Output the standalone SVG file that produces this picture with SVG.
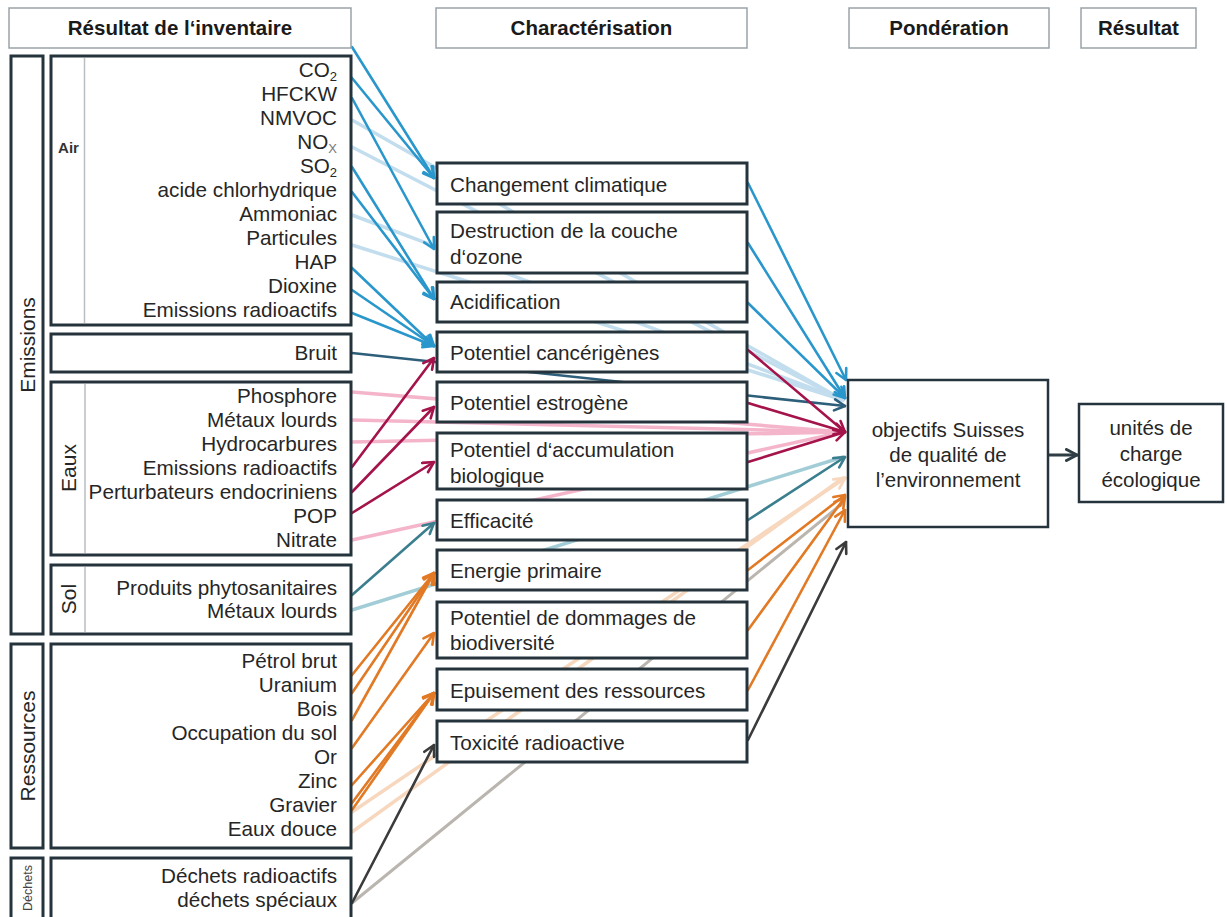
<svg xmlns="http://www.w3.org/2000/svg" width="1227" height="917" viewBox="0 0 1227 917">
<style>
.hdr{fill:#fff;stroke:#9aa3a8;stroke-width:1.5}
.box{fill:#fff;stroke:#25343c;stroke-width:3}
.div{stroke:#b9bec2;stroke-width:1.5}
.ht{font-family:"Liberation Sans",Arial,sans-serif;font-weight:bold;font-size:20.5px;fill:#1a1a1a;text-anchor:middle}
.it{font-family:"Liberation Sans",Arial,sans-serif;font-size:20.7px;fill:#262626;text-anchor:end}
.ct{font-family:"Liberation Sans",Arial,sans-serif;font-size:20.7px;fill:#262626}
.mt{font-family:"Liberation Sans",Arial,sans-serif;font-size:20.5px;fill:#262626;text-anchor:middle}
.vt{font-family:"Liberation Sans",Arial,sans-serif;font-size:21px;fill:#262626;text-anchor:middle}
.sub{font-size:13px}
.c{fill:none;stroke-linecap:round}
.blue{stroke:#2a97cc;stroke-width:2.6}
.lblue{stroke:#c2dded;stroke-width:3.5}
.dblue{stroke:#2d5e7a;stroke-width:2.6}
.crim{stroke:#a5134b;stroke-width:2.6}
.pink{stroke:#f4b5ca;stroke-width:3.5}
.teal{stroke:#3b7f8f;stroke-width:2.6}
.lteal{stroke:#a3cdd6;stroke-width:3.5}
.orng{stroke:#e27a25;stroke-width:2.6}
.peach{stroke:#f7d8bf;stroke-width:3.5}
.lgray{stroke:#bab5ae;stroke-width:3}
.dgray{stroke:#3b3b3b;stroke-width:2.6}
.dark{stroke:#2f3d45;stroke-width:3}
</style>
<defs>
<marker id="mBlue" markerUnits="userSpaceOnUse" viewBox="0 0 14 14" markerWidth="14" markerHeight="14" refX="12.5" refY="7" orient="auto"><path d="M2,1.5 L12.5,7 L2,12.5" fill="none" stroke="#2a97cc" stroke-width="2.6" stroke-linecap="round" stroke-linejoin="round"/></marker>
<marker id="mDblue" markerUnits="userSpaceOnUse" viewBox="0 0 14 14" markerWidth="14" markerHeight="14" refX="12.5" refY="7" orient="auto"><path d="M2,1.5 L12.5,7 L2,12.5" fill="none" stroke="#2d5e7a" stroke-width="2.6" stroke-linecap="round" stroke-linejoin="round"/></marker>
<marker id="mCrim" markerUnits="userSpaceOnUse" viewBox="0 0 14 14" markerWidth="14" markerHeight="14" refX="12.5" refY="7" orient="auto"><path d="M2,1.5 L12.5,7 L2,12.5" fill="none" stroke="#a5134b" stroke-width="2.6" stroke-linecap="round" stroke-linejoin="round"/></marker>
<marker id="mTeal" markerUnits="userSpaceOnUse" viewBox="0 0 14 14" markerWidth="14" markerHeight="14" refX="12.5" refY="7" orient="auto"><path d="M2,1.5 L12.5,7 L2,12.5" fill="none" stroke="#3b7f8f" stroke-width="2.6" stroke-linecap="round" stroke-linejoin="round"/></marker>
<marker id="mOrng" markerUnits="userSpaceOnUse" viewBox="0 0 14 14" markerWidth="14" markerHeight="14" refX="12.5" refY="7" orient="auto"><path d="M2,1.5 L12.5,7 L2,12.5" fill="none" stroke="#e27a25" stroke-width="2.6" stroke-linecap="round" stroke-linejoin="round"/></marker>
<marker id="mPeach" markerUnits="userSpaceOnUse" viewBox="0 0 14 14" markerWidth="14" markerHeight="14" refX="12.5" refY="7" orient="auto"><path d="M2,1.5 L12.5,7 L2,12.5" fill="none" stroke="#f7d8bf" stroke-width="2.8" stroke-linecap="round" stroke-linejoin="round"/></marker>
<marker id="mDgray" markerUnits="userSpaceOnUse" viewBox="0 0 14 14" markerWidth="14" markerHeight="14" refX="12.5" refY="7" orient="auto"><path d="M2,1.5 L12.5,7 L2,12.5" fill="none" stroke="#3b3b3b" stroke-width="2.6" stroke-linecap="round" stroke-linejoin="round"/></marker>
<marker id="mDark" markerUnits="userSpaceOnUse" viewBox="0 0 14 14" markerWidth="14" markerHeight="14" refX="12.5" refY="7" orient="auto"><path d="M2,1.5 L12.5,7 L2,12.5" fill="none" stroke="#2f3d45" stroke-width="3" stroke-linecap="round" stroke-linejoin="round"/></marker>
</defs>

<g id="connectors">
<!-- direct lines (behind characterisation boxes) -->
<line class="c lblue" x1="352" y1="120" x2="843" y2="400"/>
<line class="c lblue" x1="352" y1="147" x2="843" y2="400"/>
<line class="c lblue" x1="352" y1="215" x2="843" y2="400"/>
<line class="c lblue" x1="352" y1="245" x2="843" y2="400"/>
<line class="c pink" x1="352" y1="392" x2="843" y2="432"/>
<line class="c pink" x1="352" y1="420" x2="843" y2="432"/>
<line class="c pink" x1="352" y1="442" x2="843" y2="432"/>
<line class="c pink" x1="352" y1="540" x2="843" y2="432"/>
<line class="c lteal" x1="352" y1="610" x2="843" y2="457"/>
<line class="c peach" x1="352" y1="812" x2="845" y2="478" marker-end="url(#mPeach)"/>
<line class="c peach" x1="352" y1="832" x2="843" y2="478"/>
<line class="c lgray" x1="352" y1="903" x2="843" y2="503"/>
<line class="c dblue" x1="352" y1="353" x2="845" y2="406" marker-end="url(#mDblue)"/>
<!-- inventory to characterisation -->
<line class="c blue" x1="352" y1="47" x2="434" y2="178" marker-end="url(#mBlue)"/>
<line class="c blue" x1="352" y1="78" x2="434" y2="178" marker-end="url(#mBlue)"/>
<line class="c blue" x1="352" y1="98" x2="434" y2="249" marker-end="url(#mBlue)"/>
<line class="c blue" x1="352" y1="167" x2="434" y2="299" marker-end="url(#mBlue)"/>
<line class="c blue" x1="352" y1="192" x2="434" y2="299" marker-end="url(#mBlue)"/>
<line class="c blue" x1="352" y1="268" x2="434" y2="346" marker-end="url(#mBlue)"/>
<line class="c blue" x1="352" y1="290" x2="434" y2="346" marker-end="url(#mBlue)"/>
<line class="c blue" x1="352" y1="313" x2="434" y2="346" marker-end="url(#mBlue)"/>
<line class="c crim" x1="352" y1="467" x2="434" y2="358" marker-end="url(#mCrim)"/>
<line class="c crim" x1="352" y1="492" x2="434" y2="407" marker-end="url(#mCrim)"/>
<line class="c crim" x1="352" y1="513" x2="434" y2="462" marker-end="url(#mCrim)"/>
<line class="c teal" x1="352" y1="595" x2="434" y2="523" marker-end="url(#mTeal)"/>
<line class="c orng" x1="352" y1="675" x2="434" y2="573" marker-end="url(#mOrng)"/>
<line class="c orng" x1="352" y1="693" x2="434" y2="573" marker-end="url(#mOrng)"/>
<line class="c orng" x1="352" y1="720" x2="434" y2="573" marker-end="url(#mOrng)"/>
<line class="c orng" x1="352" y1="748" x2="434" y2="633" marker-end="url(#mOrng)"/>
<line class="c orng" x1="352" y1="785" x2="434" y2="693" marker-end="url(#mOrng)"/>
<line class="c orng" x1="352" y1="803" x2="434" y2="693" marker-end="url(#mOrng)"/>
<line class="c orng" x1="352" y1="810" x2="434" y2="693" marker-end="url(#mOrng)"/>
<line class="c dgray" x1="352" y1="903" x2="434" y2="745" marker-end="url(#mDgray)"/>
<!-- characterisation to weighting -->
<line class="c blue" x1="748" y1="183" x2="846" y2="380" marker-end="url(#mBlue)"/>
<line class="c blue" x1="748" y1="243" x2="845" y2="398" marker-end="url(#mBlue)"/>
<line class="c blue" x1="748" y1="303" x2="845" y2="398" marker-end="url(#mBlue)"/>
<line class="c crim" x1="748" y1="350" x2="845" y2="432" marker-end="url(#mCrim)"/>
<line class="c crim" x1="748" y1="403" x2="845" y2="432" marker-end="url(#mCrim)"/>
<line class="c crim" x1="748" y1="462" x2="845" y2="432" marker-end="url(#mCrim)"/>
<line class="c teal" x1="748" y1="520" x2="845" y2="457" marker-end="url(#mTeal)"/>
<line class="c orng" x1="748" y1="570" x2="845" y2="495" marker-end="url(#mOrng)"/>
<line class="c orng" x1="748" y1="630" x2="845" y2="497" marker-end="url(#mOrng)"/>
<line class="c orng" x1="748" y1="690" x2="845" y2="510" marker-end="url(#mOrng)"/>
<line class="c dgray" x1="748" y1="740" x2="846" y2="542" marker-end="url(#mDgray)"/>
<!-- weighting to result -->
<line class="c dark" x1="1049" y1="455" x2="1077" y2="455" marker-end="url(#mDark)"/>
</g>

<g id="headers">
<g id="hdr-inventaire"><rect class="hdr" x="9" y="8" width="342" height="40"/><text class="ht" x="180" y="35">Résultat de l‘inventaire</text></g>
<g id="hdr-characterisation"><rect class="hdr" x="436" y="8" width="311" height="40"/><text class="ht" x="591.5" y="35">Charactérisation</text></g>
<g id="hdr-ponderation"><rect class="hdr" x="849" y="8" width="200" height="40"/><text class="ht" x="949" y="35">Pondération</text></g>
<g id="hdr-resultat"><rect class="hdr" x="1081" y="8" width="115" height="40"/><text class="ht" x="1138.5" y="35">Résultat</text></g>
</g>

<g id="emissions">
<rect class="box" x="11" y="56" width="32" height="578"/>
<text class="vt" transform="translate(35,345) rotate(-90)">Emissions</text>
</g>
<g id="air">
<rect class="box" x="51" y="56" width="300" height="269"/>
<line class="div" x1="84.5" y1="58" x2="84.5" y2="323"/>
<text x="68.5" y="153" style="font-family:'Liberation Sans',Arial,sans-serif;font-weight:bold;font-size:15px;fill:#333;text-anchor:middle">Air</text>
<text class="it" x="337" y="77">CO<tspan class="sub" dy="4">2</tspan></text>
<text class="it" x="337" y="101">HFCKW</text>
<text class="it" x="337" y="125">NMVOC</text>
<text class="it" x="337" y="149">NO<tspan class="sub" dy="4" fill="#777">X</tspan></text>
<text class="it" x="337" y="173">SO<tspan class="sub" dy="4">2</tspan></text>
<text class="it" x="337" y="197">acide chlorhydrique</text>
<text class="it" x="337" y="221">Ammoniac</text>
<text class="it" x="337" y="245">Particules</text>
<text class="it" x="337" y="269">HAP</text>
<text class="it" x="337" y="293">Dioxine</text>
<text class="it" x="337" y="317">Emissions radioactifs</text>
</g>
<g id="bruit">
<rect class="box" x="51" y="334" width="300" height="38"/>
<text class="it" x="337" y="360">Bruit</text>
</g>
<g id="eaux">
<rect class="box" x="51" y="382" width="300" height="173"/>
<line class="div" x1="85" y1="384" x2="85" y2="553"/>
<text class="vt" transform="translate(76,468) rotate(-90)">Eaux</text>
<text class="it" x="337" y="403">Phosphore</text>
<text class="it" x="337" y="427">Métaux lourds</text>
<text class="it" x="337" y="451">Hydrocarbures</text>
<text class="it" x="337" y="475">Emissions radioactifs</text>
<text class="it" x="337" y="499">Perturbateurs endocriniens</text>
<text class="it" x="337" y="523">POP</text>
<text class="it" x="337" y="547">Nitrate</text>
</g>
<g id="sol">
<rect class="box" x="51" y="565" width="300" height="69"/>
<line class="div" x1="85" y1="567" x2="85" y2="632"/>
<text class="vt" transform="translate(76,599) rotate(-90)">Sol</text>
<text class="it" x="337" y="595">Produits phytosanitaires</text>
<text class="it" x="337" y="618">Métaux lourds</text>
</g>
<g id="ressources">
<rect class="box" x="11" y="644" width="32" height="204"/>
<text class="vt" transform="translate(35,746) rotate(-90)">Ressources</text>
<rect class="box" x="51" y="644" width="300" height="204"/>
<text class="it" x="337" y="668">Pétrol brut</text>
<text class="it" x="337" y="692">Uranium</text>
<text class="it" x="337" y="716">Bois</text>
<text class="it" x="337" y="740">Occupation du sol</text>
<text class="it" x="337" y="764">Or</text>
<text class="it" x="337" y="788">Zinc</text>
<text class="it" x="337" y="812">Gravier</text>
<text class="it" x="337" y="836">Eaux douce</text>
</g>
<g id="dechets">
<rect class="box" x="11" y="858" width="32" height="70"/>
<text transform="translate(31.5,888) rotate(-90)" style="font-family:'Liberation Sans',Arial,sans-serif;font-size:12.5px;fill:#444;text-anchor:middle">Déchets</text>
<rect class="box" x="51" y="858" width="300" height="70"/>
<text class="it" x="337" y="883">Déchets radioactifs</text>
<text class="it" x="337" y="907">déchets spéciaux</text>
</g>

<g id="changement"><rect class="box" x="437" y="163" width="310" height="41"/><text class="ct" x="450" y="192">Changement climatique</text></g>
<g id="destruction"><rect class="box" x="437" y="212" width="310" height="61"/><text class="ct" x="450" y="238">Destruction de la couche</text><text class="ct" x="450" y="264">d‘ozone</text></g>
<g id="acidification"><rect class="box" x="437" y="282" width="310" height="40"/><text class="ct" x="450" y="309">Acidification</text></g>
<g id="cancerigenes"><rect class="box" x="437" y="332" width="310" height="40"/><text class="ct" x="450" y="360">Potentiel cancérigènes</text></g>
<g id="estrogene"><rect class="box" x="437" y="382" width="310" height="40"/><text class="ct" x="450" y="410">Potentiel estrogène</text></g>
<g id="accumulation"><rect class="box" x="437" y="433" width="310" height="56"/><text class="ct" x="450" y="457">Potentiel d‘accumulation</text><text class="ct" x="450" y="483">biologique</text></g>
<g id="efficacite"><rect class="box" x="437" y="500" width="310" height="40"/><text class="ct" x="450" y="528">Efficacité</text></g>
<g id="energie"><rect class="box" x="437" y="550" width="310" height="40"/><text class="ct" x="450" y="578">Energie primaire</text></g>
<g id="biodiversite"><rect class="box" x="437" y="602" width="310" height="56"/><text class="ct" x="450" y="625">Potentiel de dommages de</text><text class="ct" x="450" y="650">biodiversité</text></g>
<g id="epuisement"><rect class="box" x="437" y="669" width="310" height="41"/><text class="ct" x="450" y="698">Epuisement des ressources</text></g>
<g id="toxicite"><rect class="box" x="437" y="721" width="310" height="41"/><text class="ct" x="450" y="750">Toxicité radioactive</text></g>

<g id="objectifs"><rect class="box" x="848" y="380" width="200" height="147" style="stroke-width:2.5"/>
<text class="mt" x="948" y="437">objectifs Suisses</text>
<text class="mt" x="948" y="462">de qualité de</text>
<text class="mt" x="948" y="487">l’environnement</text></g>
<g id="unites"><rect class="box" x="1079" y="404" width="144" height="98" style="stroke-width:2.5"/>
<text class="mt" x="1151" y="435">unités de</text>
<text class="mt" x="1151" y="461">charge</text>
<text class="mt" x="1151" y="487">écologique</text></g>
</svg>
